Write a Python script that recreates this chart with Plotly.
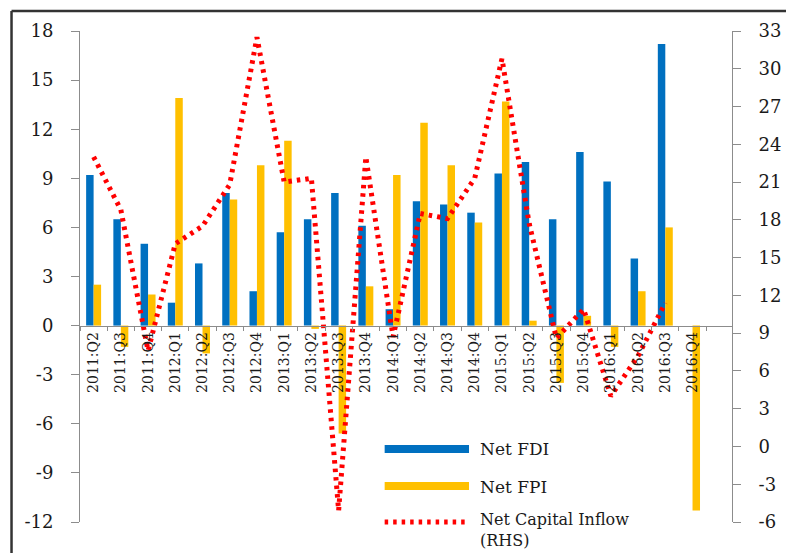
import plotly.graph_objects as go

quarters = ["2011:Q2", "2011:Q3", "2011:Q4", "2012:Q1", "2012:Q2", "2012:Q3", "2012:Q4",
            "2013:Q1", "2013:Q2", "2013:Q3", "2013:Q4", "2014:Q1", "2014:Q2", "2014:Q3",
            "2014:Q4", "2015:Q1", "2015:Q2", "2015:Q3", "2015:Q4", "2016:Q1", "2016:Q2",
            "2016:Q3", "2016:Q4"]
net_fdi = [9.2, 6.5, 5.0, 1.4, 3.8, 8.1, 2.1, 5.7, 6.5, 8.1, 6.1, 1.0, 7.6, 7.4, 6.9,
           9.3, 10.0, 6.5, 10.6, 8.8, 4.1, 17.2, None]
net_fpi = [2.5, -1.3, 1.9, 13.9, -1.7, 7.7, 9.8, 11.3, -0.2, -6.6, 2.4, 9.2, 12.4, 9.8, 6.3,
           13.7, 0.3, -3.5, 0.6, -1.3, 2.1, 6.0, -11.3]
net_capital_inflow = [23.0, 18.8, 7.6, 16.1, 17.5, 20.8, 32.5, 21.0, 21.3, -5.1, 23.0, 8.7,
                      18.5, 18.1, 21.3, 30.8, 17.7, 8.6, 10.9, 4.0, 7.2, 11.4, None]
left_ticks = [-12, -9, -6, -3, 0, 3, 6, 9, 12, 15, 18]
right_ticks = [-6, -3, 0, 3, 6, 9, 12, 15, 18, 21, 24, 27, 30, 33]

BLUE = "#0070C0"
YELLOW = "#FFC000"
RED = "#FF0000"
AXIS = "#8c8c8c"
FONT = "DejaVu Serif"
TXT = "#1a1a1a"
DOTS = "3.5px,5px"

fig = go.Figure()
fig.add_trace(go.Bar(x=quarters, y=net_fdi, name="Net FDI", marker_color=BLUE,
                     marker_line_width=0, showlegend=False))
fig.add_trace(go.Bar(x=quarters, y=net_fpi, name="Net FPI", marker_color=YELLOW,
                     marker_line_width=0, showlegend=False))
fig.add_trace(go.Scatter(x=quarters, y=net_capital_inflow, name="Net Capital Inflow (RHS)",
                         mode="lines", yaxis="y2", showlegend=False,
                         line=dict(color=RED, width=5, dash=DOTS)))

# page body has an 8px margin; plot area spans screen x 80..737, y 31..522
def px_x(p):
    return (p - 80) / 657.0

def px_y(p):
    return (522 - p) / 491.0

shapes = [
    dict(type="rect", xref="paper", yref="paper", x0=px_x(387), x1=px_x(472),
         y0=px_y(453), y1=px_y(445), fillcolor=BLUE, line_width=0),
    dict(type="rect", xref="paper", yref="paper", x0=px_x(387), x1=px_x(472),
         y0=px_y(490), y1=px_y(482), fillcolor=YELLOW, line_width=0),
    dict(type="line", xref="paper", yref="paper", x0=px_x(387), x1=px_x(472),
         y0=px_y(522), y1=px_y(522), line=dict(color=RED, width=5, dash=DOTS)),
    # outer frame (top and left)
    dict(type="line", xref="paper", yref="paper", x0=px_x(11), x1=px_x(800),
         y0=px_y(11), y1=px_y(11), line=dict(color="#333333", width=2.5)),
    dict(type="line", xref="paper", yref="paper", x0=px_x(11), x1=px_x(11),
         y0=px_y(560), y1=px_y(11), line=dict(color="#333333", width=2.5)),
]
annotations = [
    dict(text="Net FDI", xref="paper", yref="paper", x=px_x(481), y=px_y(449),
         xanchor="left", yanchor="middle", showarrow=False,
         font=dict(family=FONT, size=17, color=TXT)),
    dict(text="Net FPI", xref="paper", yref="paper", x=px_x(481), y=px_y(487),
         xanchor="left", yanchor="middle", showarrow=False,
         font=dict(family=FONT, size=17, color=TXT)),
    dict(text="Net Capital Inflow<br>(RHS)", xref="paper", yref="paper", x=px_x(481),
         y=px_y(508), xanchor="left", yanchor="top", align="left", showarrow=False,
         font=dict(family=FONT, size=16, color=TXT)),
]

fig.update_layout(
    width=786, height=545,
    margin=dict(l=72, r=57, t=23, b=31),
    paper_bgcolor="white", plot_bgcolor="white",
    barmode="group", bargap=0.45, bargroupgap=0.0,
    font=dict(family=FONT, color=TXT),
    shapes=shapes, annotations=annotations,
    xaxis=dict(type="category", categoryorder="array", categoryarray=quarters,
               range=[-0.5, 23.45], anchor="free", position=0.4,
               showline=True, linecolor=AXIS, linewidth=1,
               ticks="outside", tickson="boundaries", ticklen=4, tickcolor=AXIS,
               tickangle=-90, tickfont=dict(family=FONT, size=14, color=TXT),
               showgrid=False, zeroline=False),
    yaxis=dict(range=[-12, 18], tickvals=left_ticks, ticktext=[str(v) for v in left_ticks],
               showline=True, linecolor=AXIS, ticks="outside", ticklen=8, tickcolor=AXIS,
               showgrid=False, zeroline=False,
               tickfont=dict(family=FONT, size=18, color=TXT), ticklabelstandoff=14),
    yaxis2=dict(range=[-6, 33], tickvals=right_ticks, ticktext=[str(v) for v in right_ticks],
                overlaying="y", side="right",
                showline=True, linecolor=AXIS, ticks="outside", ticklen=8, tickcolor=AXIS,
                showgrid=False, zeroline=False,
                tickfont=dict(family=FONT, size=18, color=TXT), ticklabelstandoff=14),
)

fig.write_html("out.html")
